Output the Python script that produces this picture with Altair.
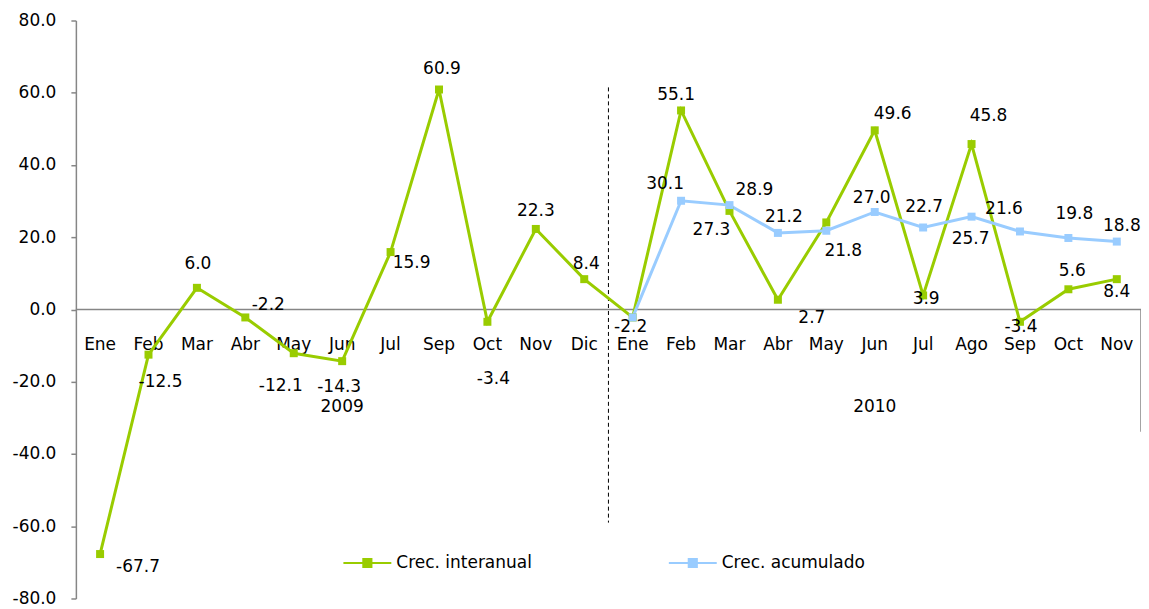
import altair as alt
import pandas as pd

FONT = "DejaVu Sans"
FS = 17

months_2009 = ["Ene", "Feb", "Mar", "Abr", "May", "Jun", "Jul", "Sep", "Oct", "Nov", "Dic"]
months_2010 = ["Ene", "Feb", "Mar", "Abr", "May", "Jun", "Jul", "Ago", "Sep", "Oct", "Nov"]
years = ["2009", "2010"]

interanual = [-67.7, -12.5, 6.0, -2.2, -12.1, -14.3, 15.9, 60.9, -3.4, 22.3, 8.4,
              -2.2, 55.1, 27.3, 2.7, 24.1, 49.6, 3.9, 45.8, -3.4, 5.6, 8.4]
acumulado_2010 = [-2.2, 30.1, 28.9, 21.2, 21.8, 27.0, 22.7, 25.7, 21.6, 19.8, 18.8]

series_names = ["Crec. interanual", "Crec. acumulado"]
series_colors = ["#99CC00", "#99CCFF"]

# label offsets (pixels) relative to each point; None = label not shown
inter_dx = [38, 12, 1, 23, -13, -3, 21, 3, 6, 0, 2, -2, -5, -18, 34, None, 18, 3, 17, 1, 4, 0]
inter_dy = [13, 27, -24, -12, 33, 26, 11, -21, 57, -18, -15, 10, -15, 19, 18, None, -16, 4, -28, 5, -18, 13]
acum_dx = [None, -16, 25, 6, 17, -3, 1, -1, -16, 6, 5]
acum_dy = [None, -17, -15, -16, 20, -14, -21, 22, -23, -24, -16]

months = months_2009 + months_2010
n = len(months)
n09 = len(months_2009)

rows = []
for i, v in enumerate(interanual):
    rows.append({"idx": i, "series": series_names[0], "value": v,
                 "dx": inter_dx[i], "dy": inter_dy[i]})
for j, v in enumerate(acumulado_2010):
    rows.append({"idx": n09 + j, "series": series_names[1], "value": v,
                 "dx": acum_dx[j], "dy": acum_dy[j]})
df = pd.DataFrame(rows)

month_df = pd.DataFrame({"idx": list(range(n)), "month": months})
year_df = pd.DataFrame({
    "year": years,
    "center": [(0 + n09 - 1) / 2, (n09 + n - 1) / 2],
})
guide_df = pd.DataFrame({"split": [n09 - 0.5], "end": [n - 0.5], "zero": [0]})

xscale = alt.Scale(domain=[-0.5, n - 0.5], nice=False, zero=False)
yscale = alt.Scale(domain=[-80, 80], nice=False)

HYPHEN_FMT = "(datum.value < 0 ? '-' : '') + format(abs(datum.value), '.1f')"

AX = alt.Axis(values=list(range(-80, 81, 20)), grid=False,
              labelExpr=HYPHEN_FMT,
              title=None, domainColor="#868686", domainWidth=1.5,
              tickColor="#868686", tickWidth=1.5, tickSize=5,
              labelFontSize=FS, labelFont=FONT, labelColor="black",
              labelPadding=15)

X = alt.X("idx:Q", scale=xscale, axis=None)
Y = alt.Y("value:Q", scale=yscale, axis=AX)
Y0 = alt.Y("zero:Q", scale=yscale, axis=AX)

sym_path = "M-1,0H1M-0.17,-0.17H0.17V0.17H-0.17Z"
legend = alt.Legend(title=None, orient="none", legendX=267, legendY=518,
                    direction="horizontal", symbolType=sym_path, symbolSize=2304,
                    symbolStrokeWidth=2, labelFontSize=FS, labelFont=FONT,
                    labelColor="black", labelOffset=4, columnPadding=133, padding=0)

cscale = alt.Scale(domain=series_names, range=series_colors)

base = alt.Chart(df)

lines = base.mark_line(strokeWidth=3).encode(
    x=X, y=Y,
    color=alt.Color("series:N", scale=cscale, legend=legend),
)
points = base.mark_square(size=64, opacity=1).encode(
    x=X, y=Y,
    color=alt.Color("series:N", scale=cscale, legend=legend),
)

guides = alt.Chart(guide_df)
zero_line = guides.mark_rule(color="#868686", strokeWidth=1.5).encode(y=Y0)
right_line = guides.mark_rule(color="#868686", strokeWidth=1.5).encode(
    x=alt.X("end:Q", scale=xscale, axis=None), y=Y0, y2=alt.value(412)
)
divider = guides.mark_rule(color="black", strokeWidth=1, strokeDash=[4, 3]).encode(
    x=alt.X("split:Q", scale=xscale, axis=None), y=alt.value(67), y2=alt.value(503)
)

month_text = alt.Chart(month_df).transform_calculate(zero="0").mark_text(
    fontSize=FS, font=FONT, color="black", dy=36, baseline="middle"
).encode(x=X, y=Y0, text="month:N")

year_text = alt.Chart(year_df).transform_calculate(zero="0").mark_text(
    fontSize=FS, font=FONT, color="black", dy=98, baseline="middle"
).encode(x=alt.X("center:Q", scale=xscale, axis=None), y=Y0, text="year:N")

lab = df.dropna(subset=["dx"]).copy()
lab["key"] = lab["dx"].astype(int).astype(str) + "_" + lab["dy"].astype(int).astype(str)
label_layers = []
for key in sorted(lab["key"].unique()):
    dx, dy = [int(t) for t in key.split("_")]
    label_layers.append(
        alt.Chart(lab[lab["key"] == key]).transform_calculate(
            txt="(datum.value < 0 ? '-' : '') + format(abs(datum.value), '.1f')"
        ).mark_text(
            fontSize=FS, font=FONT, color="black", dx=dx, dy=dy, baseline="middle"
        ).encode(x=X, y=Y, text="txt:N")
    )

chart = alt.layer(zero_line, right_line, divider, month_text, year_text,
                  lines, points, *label_layers).properties(
    width=1067, height=579,
    autosize=alt.AutoSizeParams(type="none"),
    padding={"left": 68, "top": 12, "right": 0, "bottom": 10},
).configure(font=FONT).configure_view(stroke=None)

chart.save("out.html", embed_options={"renderer": "svg", "actions": False})
